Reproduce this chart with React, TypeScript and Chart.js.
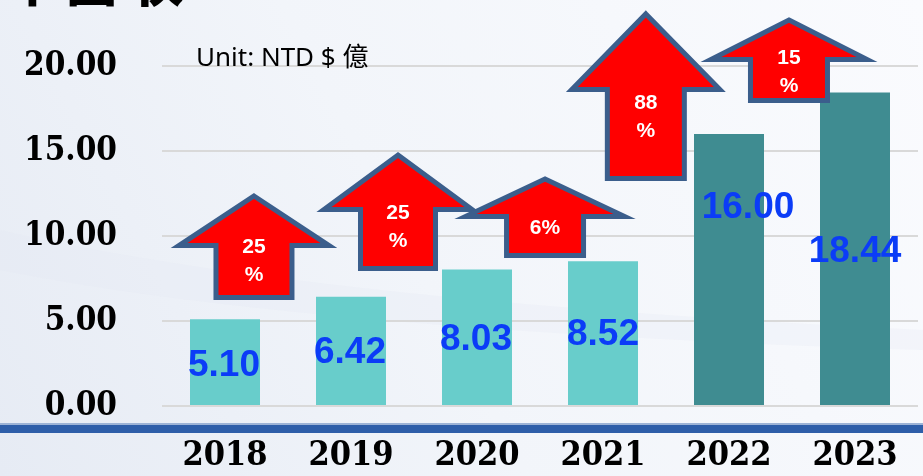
import React, { useEffect, useRef } from "react";
import { Chart, registerables } from "chart.js";

Chart.register(...registerables);

const YEARS = ["2018", "2019", "2020", "2021", "2022", "2023"];
const REVENUE = [5.1, 6.42, 8.03, 8.52, 16.0, 18.44];
const GROWTH = ["25%", "25%", "6%", "88%", "15%"];
const Y_TICKS = [0, 5, 10, 15, 20];
const UNIT_TEXT = "Unit: NTD $ 億";
const TITLE_TEXT = "年營收";

// styling / layout constants
const BAR_COLORS = ["#68CDCB", "#68CDCB", "#68CDCB", "#68CDCB", "#3F8C91", "#3F8C91"];
const LABEL_OFFSETS = [
  { dx: -1, dy: 46 },
  { dx: -1, dy: 56 },
  { dx: -1, dy: 70 },
  { dx: 0, dy: 74 },
  { dx: 19, dy: 74 },
  { dx: 0, dy: 159 },
];
// arrow layout: at = category position, apex/head/bottom/text in y-axis units, half widths in px
const ARROWS = [
  { at: 0.23, apex: 12.53, head: 9.29, bottom: 6.24, headHalf: 83, shaftHalf: 40.5, text: 9.35, wrap: true },
  { at: 1.373, apex: 14.94, head: 11.41, bottom: 7.94, headHalf: 82, shaftHalf: 40, text: 11.35, wrap: true },
  { at: 2.54, apex: 13.53, head: 11.0, bottom: 8.71, headHalf: 87.5, shaftHalf: 41, text: 10.47, wrap: false },
  { at: 3.34, apex: 23.24, head: 18.47, bottom: 13.24, headHalf: 82, shaftHalf: 41, text: 17.82, wrap: true },
  { at: 4.476, apex: 22.88, head: 20.24, bottom: 17.82, headHalf: 86, shaftHalf: 41, text: 20.47, wrap: true },
];

const SERIF = "'DejaVu Serif Condensed', 'DejaVu Serif', 'Liberation Serif', serif";
const SANS = "'Liberation Sans', Arial, sans-serif";

const decorPlugin = {
  id: "decor",
  beforeDraw(chart: any) {
    const { ctx, width, height } = chart;
    ctx.save();
    const g = ctx.createLinearGradient(width, 0, 0, height);
    g.addColorStop(0, "#FAFBFE");
    g.addColorStop(0.55, "#F2F5FA");
    g.addColorStop(1, "#E6EBF4");
    ctx.fillStyle = g;
    ctx.fillRect(0, 0, width, height);
    ctx.globalAlpha = 0.25;
    ctx.fillStyle = "#E3E9F3";
    ctx.beginPath();
    ctx.moveTo(0, 230);
    ctx.quadraticCurveTo(300, 300, 923, 330);
    ctx.lineTo(923, 350);
    ctx.quadraticCurveTo(300, 330, 0, 270);
    ctx.closePath();
    ctx.fill();
    ctx.restore();

    // title (cut off at top)
    ctx.save();
    ctx.fillStyle = "#000";
    ctx.font = "bold 62px 'Noto Sans CJK TC', 'Noto Sans CJK SC', sans-serif";
    ctx.textBaseline = "ideographic";
    ctx.textAlign = "left";
    ctx.fillText(TITLE_TEXT, -2, 8);
    ctx.restore();
  },
  afterDatasetsDraw(chart: any) {
    const { ctx, width } = chart;
    const x = chart.scales.x;
    const y = chart.scales.y;
    ctx.save();
    // unit
    ctx.fillStyle = "#000";
    ctx.font = "26px 'Noto Sans', 'Noto Sans CJK TC', sans-serif";
    ctx.textAlign = "left";
    ctx.textBaseline = "alphabetic";
    ctx.fillText(UNIT_TEXT, 196, 66);

    // blue band
    ctx.fillStyle = "#9DB3D6";
    ctx.fillRect(0, 423, width, 2);
    ctx.fillStyle = "#2E5EA9";
    ctx.fillRect(0, 425, width, 8);

    // value labels
    const meta = chart.getDatasetMeta(0);
    ctx.font = `bold 37px ${SANS}`;
    ctx.fillStyle = "#0B3CF7";
    ctx.textAlign = "center";
    ctx.textBaseline = "middle";
    meta.data.forEach((bar: any, i: number) => {
      const o = LABEL_OFFSETS[i];
      ctx.fillText(REVENUE[i].toFixed(2), bar.x + o.dx, bar.y + o.dy);
    });

    // arrows
    ARROWS.forEach((a, i) => {
      const cx = x.getPixelForValue(a.at);
      const apexY = y.getPixelForValue(a.apex) + 3;
      const headY = y.getPixelForValue(a.head) - 2.5;
      const botY = y.getPixelForValue(a.bottom) - 2.5;
      const hh = a.headHalf - 8;
      const sh = a.shaftHalf - 2.5;
      ctx.beginPath();
      ctx.moveTo(cx, apexY);
      ctx.lineTo(cx + hh, headY);
      ctx.lineTo(cx + sh, headY);
      ctx.lineTo(cx + sh, botY);
      ctx.lineTo(cx - sh, botY);
      ctx.lineTo(cx - sh, headY);
      ctx.lineTo(cx - hh, headY);
      ctx.closePath();
      ctx.fillStyle = "#FF0000";
      ctx.fill();
      ctx.lineWidth = 5;
      ctx.lineJoin = "miter";
      ctx.miterLimit = 10;
      ctx.strokeStyle = "#3B5E8C";
      ctx.stroke();

      ctx.fillStyle = "#FFFFFF";
      ctx.font = `bold 21px ${SANS}`;
      ctx.textAlign = "center";
      ctx.textBaseline = "middle";
      const ty = y.getPixelForValue(a.text);
      const label = GROWTH[i];
      if (a.wrap) {
        ctx.fillText(label.slice(0, -1), cx, ty);
        ctx.fillText("%", cx, ty + 28);
      } else {
        ctx.fillText(label, cx, ty);
      }
    });
    ctx.restore();
  },
};

export default function App() {
  const ref = useRef<HTMLCanvasElement>(null);
  useEffect(() => {
    if (!ref.current) return;
    const chart = new Chart(ref.current, {
      type: "bar",
      data: {
        labels: YEARS,
        datasets: [
          {
            data: REVENUE,
            backgroundColor: BAR_COLORS,
            borderWidth: 0,
            categoryPercentage: 1,
            barPercentage: 70 / 126,
          },
        ],
      },
      options: {
        responsive: false,
        animation: false,
        layout: { padding: { top: 66, right: 5, left: 0, bottom: 0 } },
        plugins: { legend: { display: false }, tooltip: { enabled: false }, title: { display: false } },
        scales: {
          y: {
            min: 0,
            max: 20,
            afterBuildTicks: (s: any) => {
              s.ticks = Y_TICKS.map((v) => ({ value: v }));
            },
            afterFit: (s: any) => {
              s.width = 162;
            },
            ticks: {
              callback: (v: any) => Number(v).toFixed(2),
              color: "#000",
              padding: 45,
              font: { family: SERIF, size: 33, weight: "bold" },
            },
            grid: { color: "#D9D9D9", lineWidth: 2, drawTicks: false },
            border: { display: false },
          },
          x: {
            afterFit: (s: any) => {
              s.height = 70;
              s.paddingLeft = 0;
              s.paddingRight = 0;
            },
            ticks: {
              color: "#000",
              padding: 30,
              font: { family: SERIF, size: 34, weight: "bold" },
            },
            grid: { display: false, drawTicks: false },
            border: { display: false },
          },
        },
      },
      plugins: [decorPlugin],
    });
    return () => chart.destroy();
  }, []);
  return (
    <div style={{ position: "absolute", left: 0, top: 0, width: 923, height: 476 }}>
      <canvas ref={ref} width={923} height={476} />
    </div>
  );
}
